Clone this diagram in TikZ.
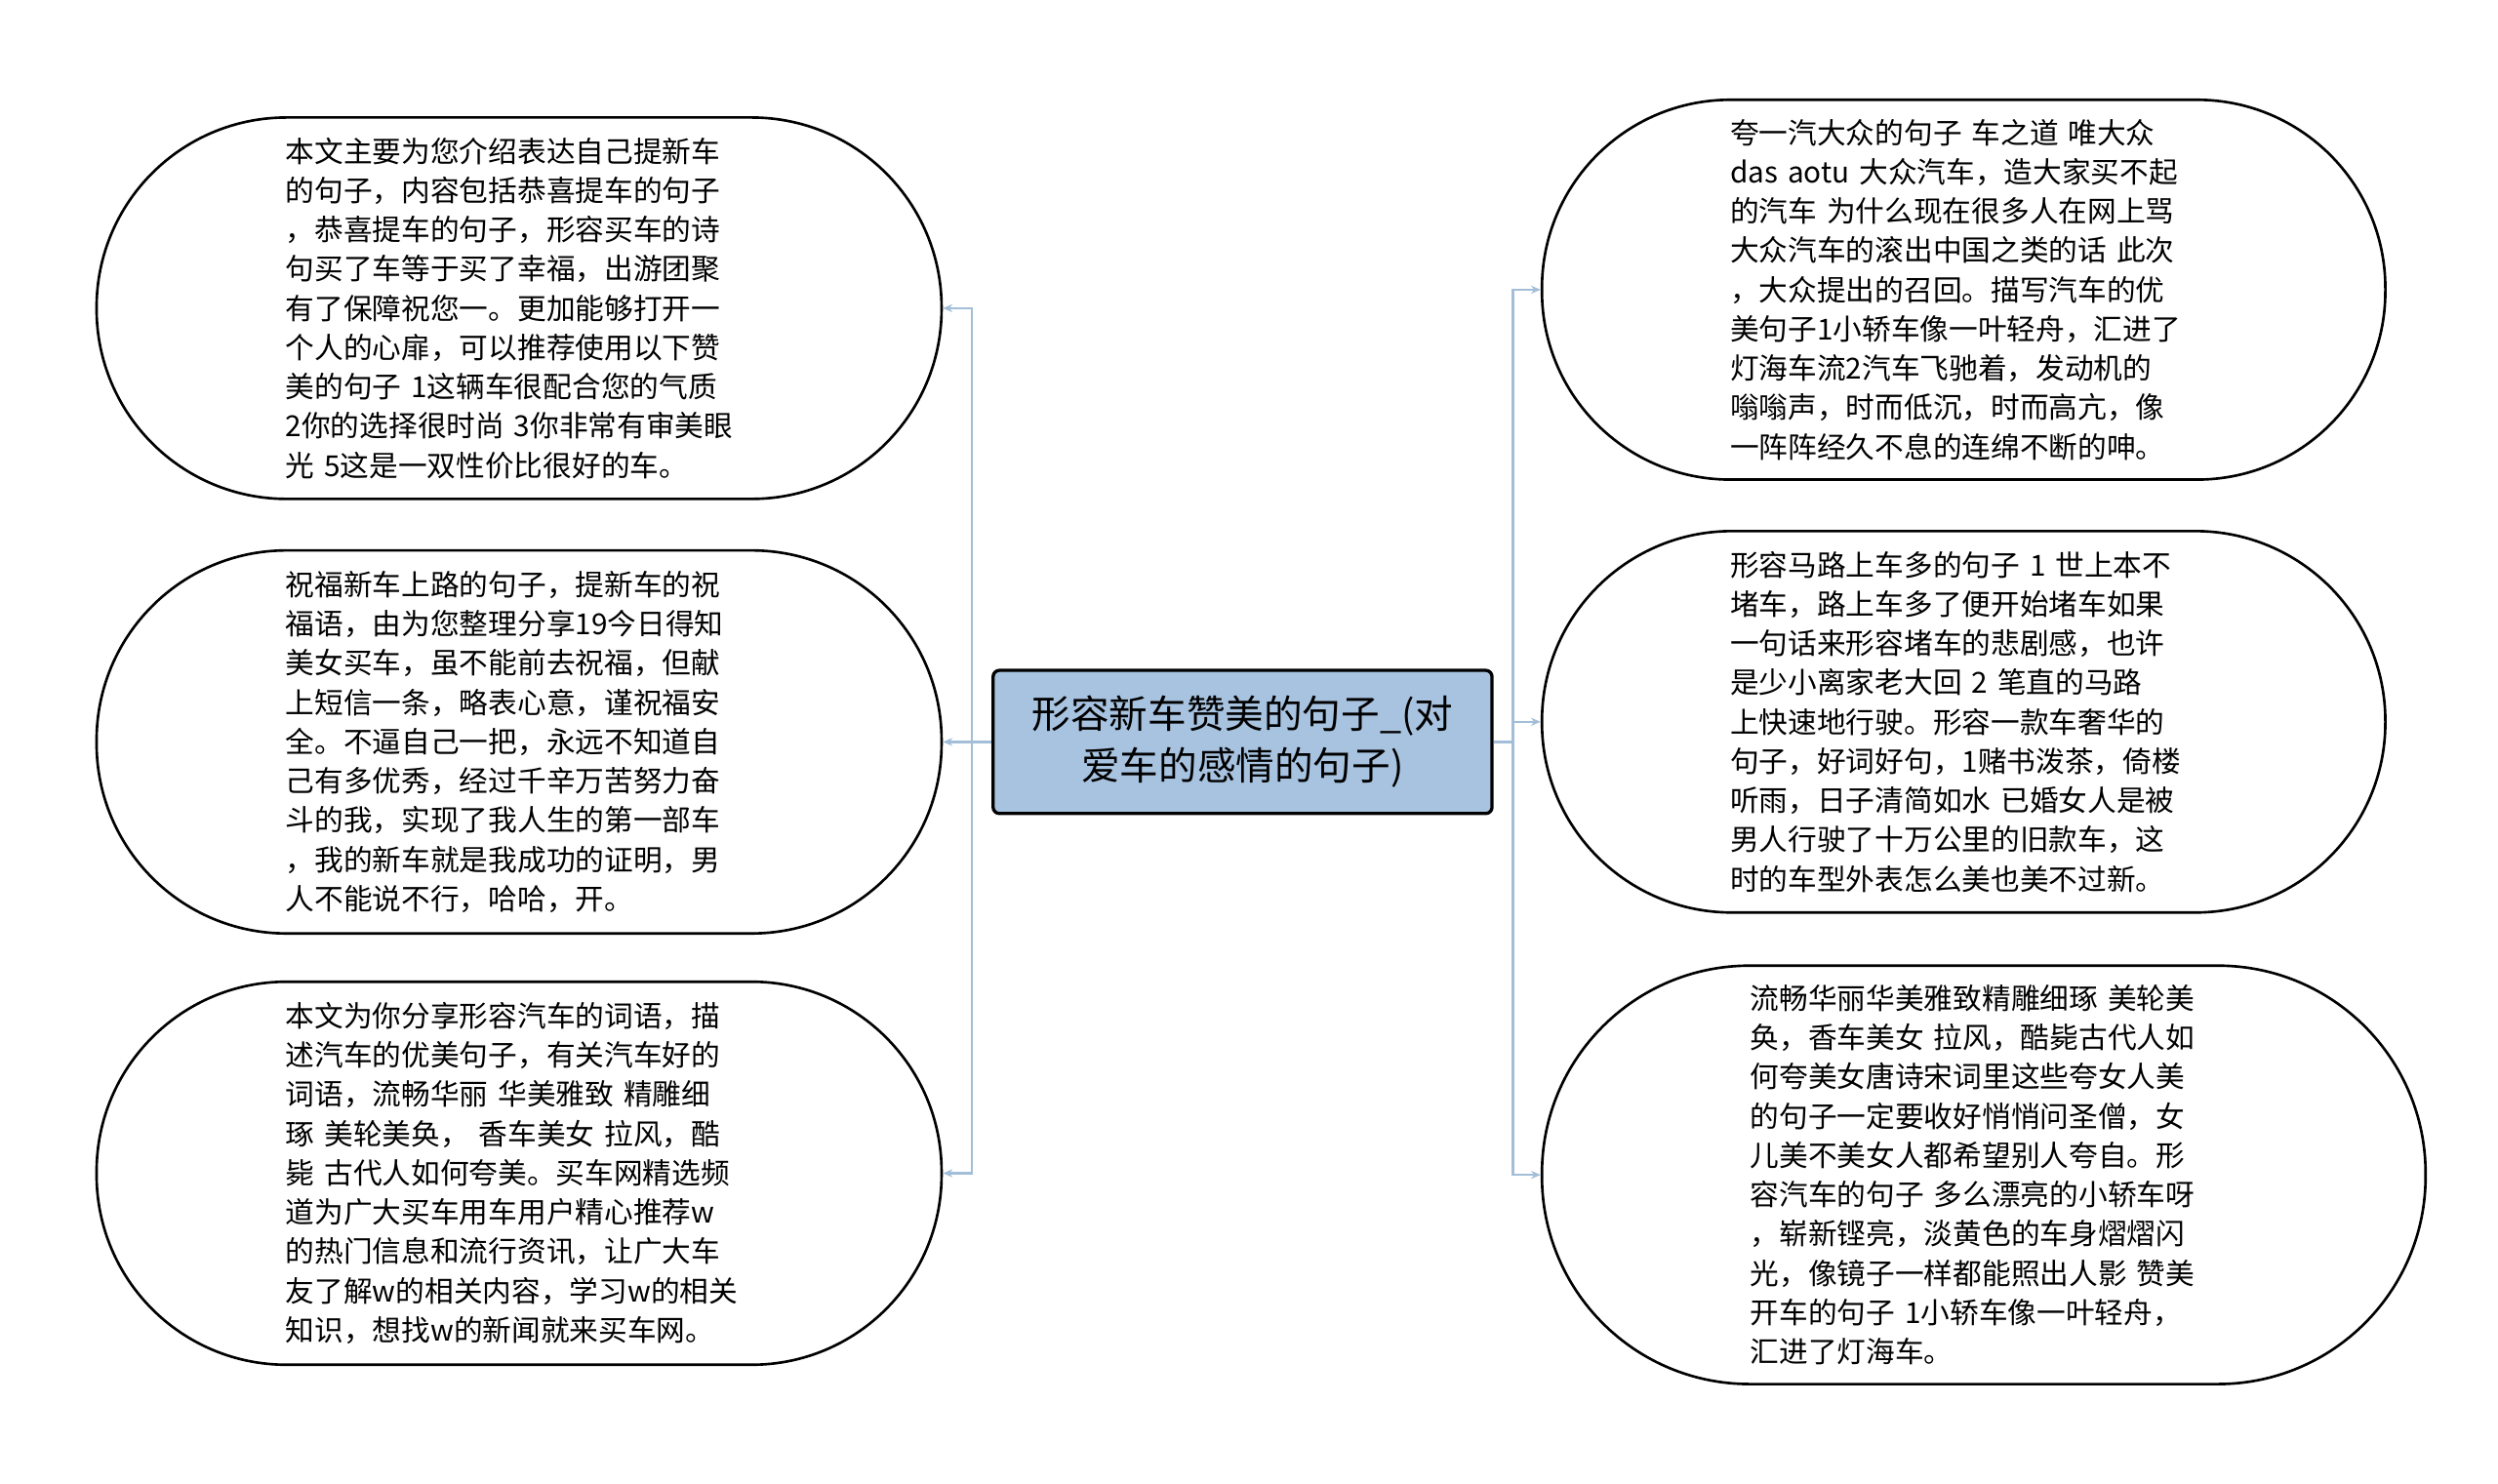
\documentclass[tikz,border=0pt]{standalone}
\usepackage{fontspec}
\setmainfont{Noto Sans CJK SC}
\begin{document}
\begin{tikzpicture}[x=1pt,y=-1pt,
 bubble/.style={draw=black,line width=1.6pt,fill=white,inner sep=0pt,
   font=\fontsize{18}{24.4}\selectfont,text width=290pt,align=left},
 conn/.style={draw=conncol,line width=1.4pt},
 arr/.style={conn,-{Stealth[length=6pt,width=5pt]}}]
\definecolor{conncol}{HTML}{A3BED8}
\definecolor{centfill}{HTML}{A7C3E0}
\useasboundingbox (0,0) rectangle (1552,922);
\usetikzlibrary{arrows.meta}
\node[draw=black,line width=2pt,fill=centfill,rounded corners=4pt,minimum width=310pt,minimum height=89pt,
 font=\fontsize{24}{32}\selectfont,align=center] (c) at (772,461) {形容新车赞美的句子\_(对\\爱车的感情的句子)};
\node[bubble,minimum width=525pt,minimum height=237pt,rounded corners=118pt] (l1) at (322.5,191.5) {本文主要为您介绍表达自己提新车\\的句子，内容包括恭喜提车的句子\\，恭喜提车的句子，形容买车的诗\\句买了车等于买了幸福，出游团聚\\有了保障祝您一。更加能够打开一\\个人的心扉，可以推荐使用以下赞\\美的句子 1这辆车很配合您的气质\\2你的选择很时尚 3你非常有审美眼\\光 5这是一双性价比很好的车。};
\node[bubble,minimum width=525pt,minimum height=238pt,rounded corners=118pt] (l2) at (322.5,461) {祝福新车上路的句子，提新车的祝\\福语，由为您整理分享19今日得知\\美女买车，虽不能前去祝福，但献\\上短信一条，略表心意，谨祝福安\\全。不逼自己一把，永远不知道自\\己有多优秀，经过千辛万苦努力奋\\斗的我，实现了我人生的第一部车\\，我的新车就是我成功的证明，男\\人不能说不行，哈哈，开。};
\node[bubble,minimum width=525pt,minimum height=238pt,rounded corners=118pt] (l3) at (322.5,729) {本文为你分享形容汽车的词语，描\\述汽车的优美句子，有关汽车好的\\词语，流畅华丽 华美雅致 精雕细\\琢 美轮美奂， 香车美女 拉风，酷\\毙 古代人如何夸美。买车网精选频\\道为广大买车用车用户精心推荐w\\的热门信息和流行资讯，让广大车\\友了解w的相关内容，学习w的相关\\知识，想找w的新闻就来买车网。};
\node[bubble,minimum width=524pt,minimum height=236pt,rounded corners=117pt] (r1) at (1220,180) {夸一汽大众的句子 车之道 唯大众\\das aotu 大众汽车，造大家买不起\\的汽车 为什么现在很多人在网上骂\\大众汽车的滚出中国之类的话 此次\\，大众提出的召回。描写汽车的优\\美句子1小轿车像一叶轻舟，汇进了\\灯海车流2汽车飞驰着，发动机的\\嗡嗡声，时而低沉，时而高亢，像\\一阵阵经久不息的连绵不断的呻。};
\node[bubble,minimum width=524pt,minimum height=237pt,rounded corners=118pt] (r2) at (1220,448.5) {形容马路上车多的句子 1  世上本不\\堵车，路上车多了便开始堵车如果\\一句话来形容堵车的悲剧感，也许\\是少小离家老大回 2  笔直的马路\\上快速地行驶。形容一款车奢华的\\句子，好词好句，1赌书泼茶，倚楼\\听雨，日子清简如水 已婚女人是被\\男人行驶了十万公里的旧款车，这\\时的车型外表怎么美也美不过新。};
\node[bubble,minimum width=549pt,minimum height=260pt,rounded corners=129pt] (r3) at (1232.5,730) {流畅华丽华美雅致精雕细琢 美轮美\\奂，香车美女 拉风，酷毙古代人如\\何夸美女唐诗宋词里这些夸女人美\\的句子一定要收好悄悄问圣僧，女\\儿美不美女人都希望别人夸自。形\\容汽车的句子 多么漂亮的小轿车呀\\，崭新铿亮，淡黄色的车身熠熠闪\\光，像镜子一样都能照出人影 赞美\\开车的句子 1小轿车像一叶轻舟，\\汇进了灯海车。};
\coordinate (lj) at (604,461);
\coordinate (rj) at (940,461);
\draw[conn] (c.west) -- (lj);
\draw[conn] (c.east) -- (rj);
\draw[arr] (lj) |- (l1.east);
\draw[arr] (lj) -- (l2.east);
\draw[arr] (lj) |- (l3.east);
\draw[arr] (rj) |- (r1.west);
\draw[arr] (rj) |- (r2.west);
\draw[arr] (rj) |- (r3.west);
\end{tikzpicture}
\end{document}
